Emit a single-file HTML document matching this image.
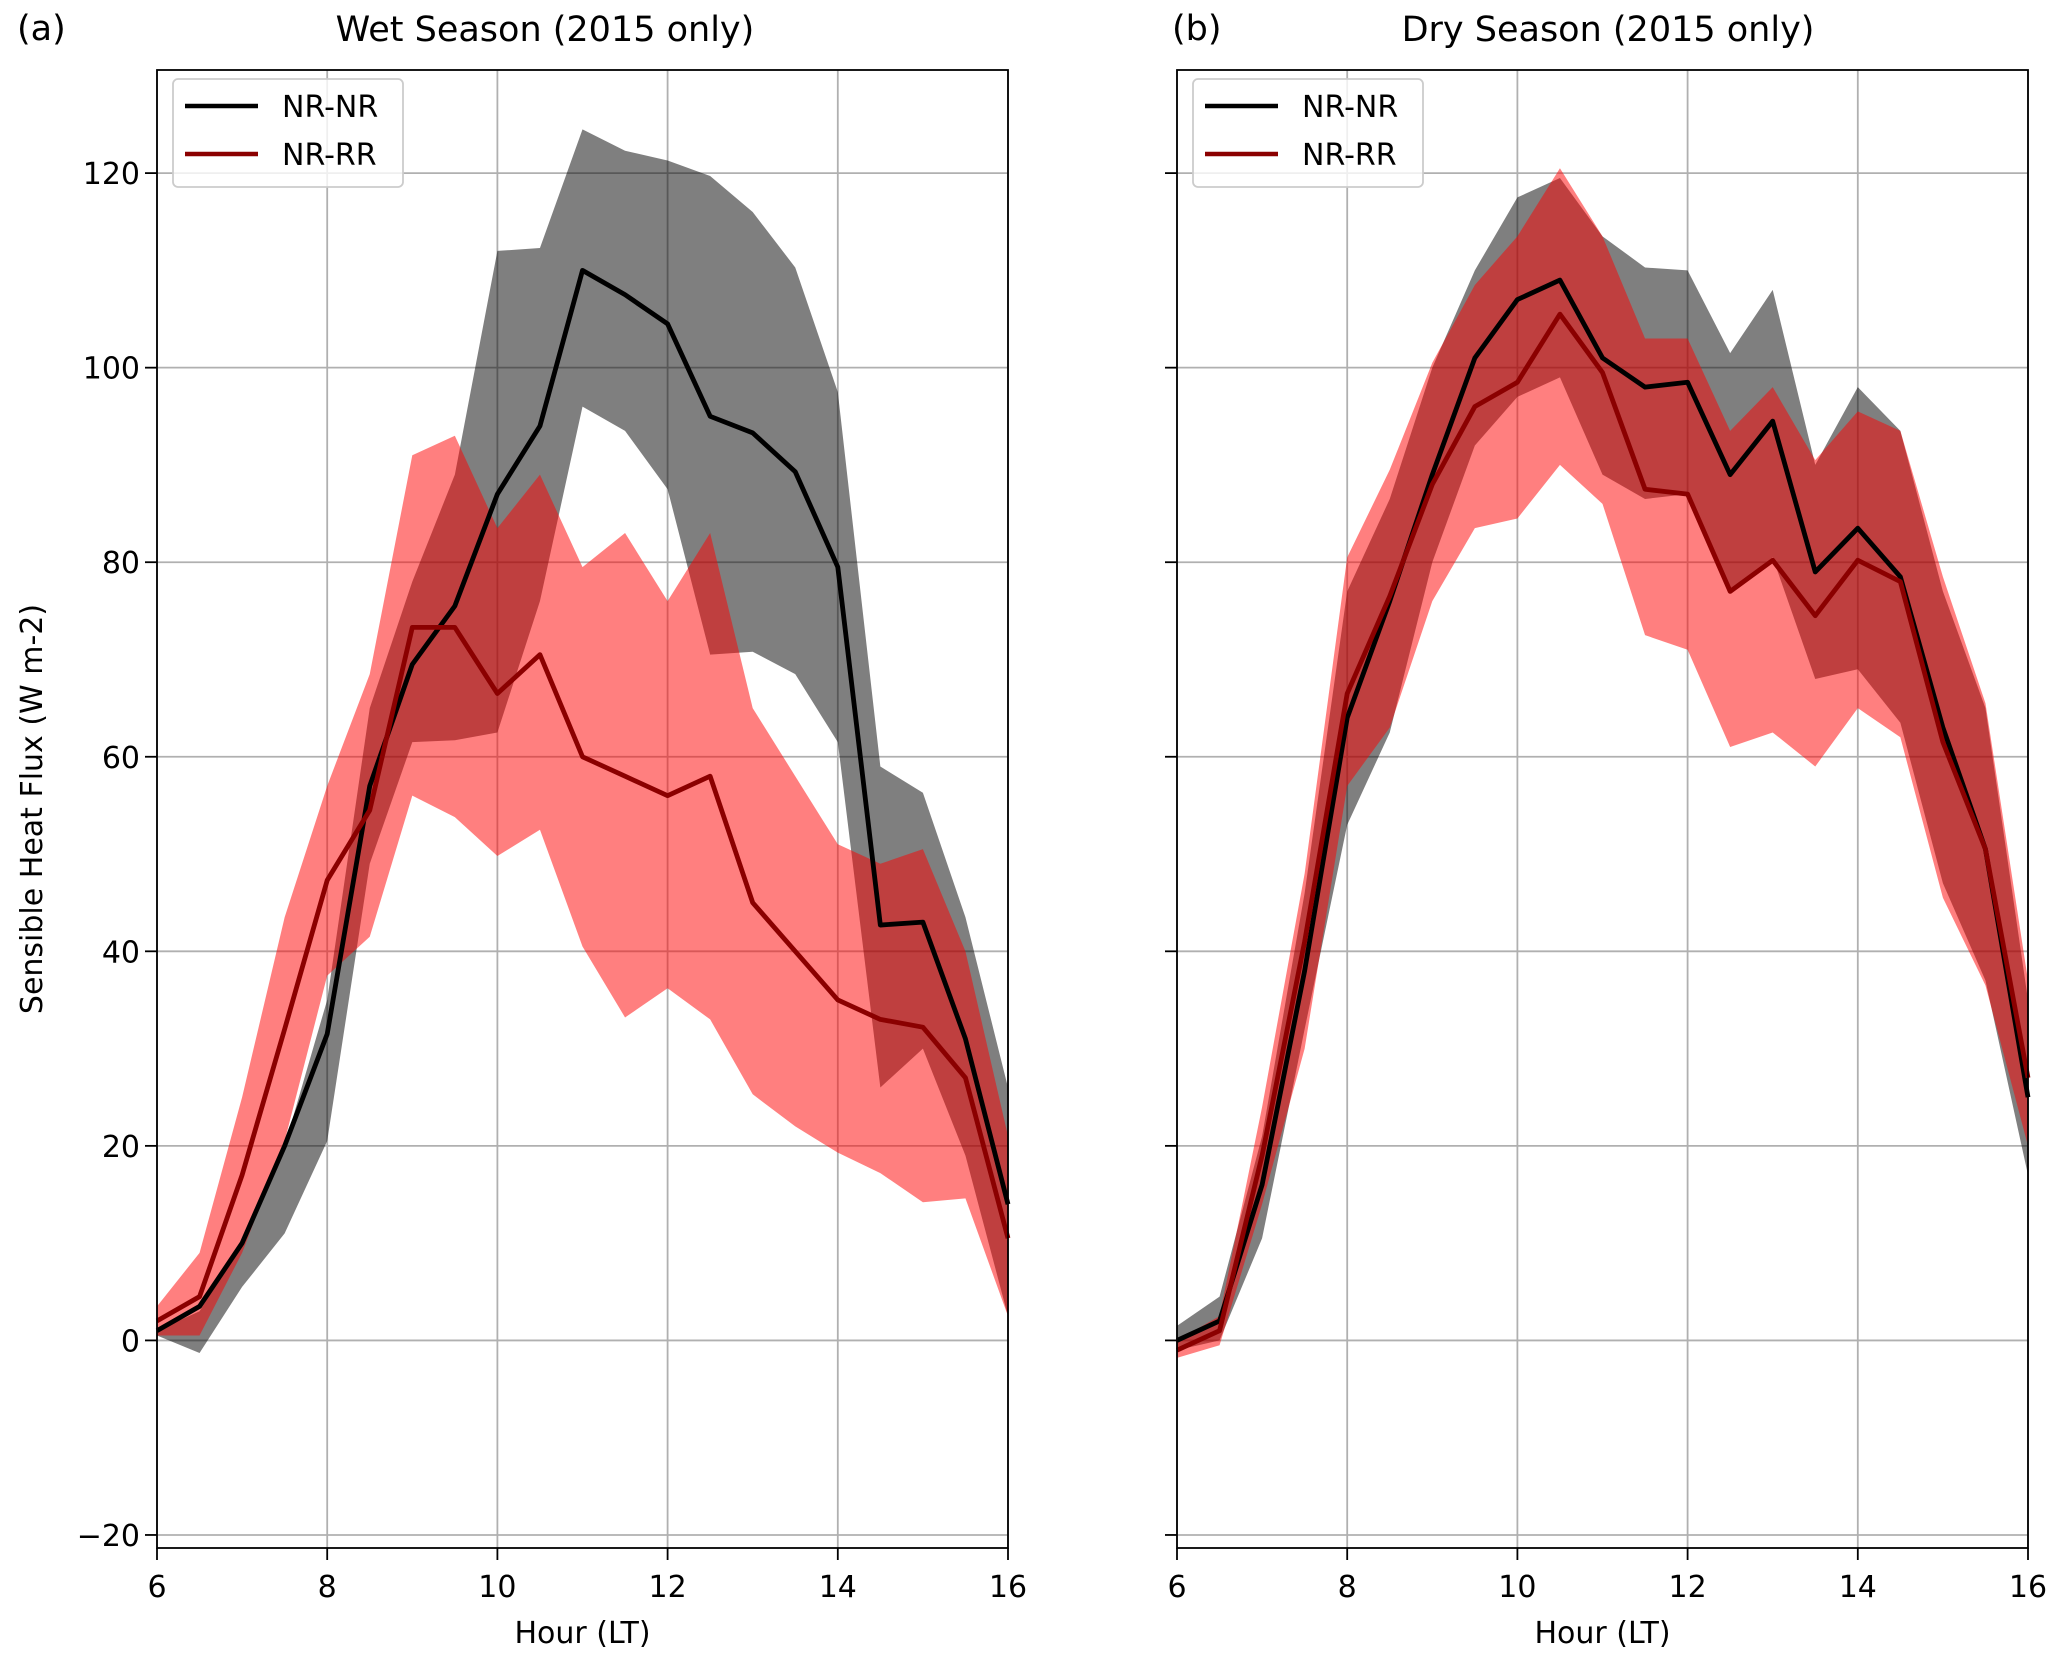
<!DOCTYPE html>
<html><head><meta charset="utf-8"><style>
html,body{margin:0;padding:0;background:#fff;}
svg{display:block;font-family:"DejaVu Sans","Liberation Sans",sans-serif;}
</style></head>
<body>
<svg id="fig" width="2067" height="1663" viewBox="0 0 2067 1663" xmlns="http://www.w3.org/2000/svg"></svg>
<script>
const hours = [6,6.5,7,7.5,8,8.5,9,9.5,10,10.5,11,11.5,12,12.5,13,13.5,14,14.5,15,15.5,16];
const xTicks = [6,8,10,12,14,16];
const yTicks = [-20,0,20,40,60,80,100,120];
const yTickLabels = ["\u221220","0","20","40","60","80","100","120"];

const wetNNMean = [1,3.5,10,20,31.5,57,69.5,75.5,87,94,110,107.5,104.5,95,93.3,89.3,79.5,42.7,43,31,14];
const wetNNHi   = [1,3,10,20,35,65,78,89,112,112.3,124.5,122.3,121.3,119.7,116,110.3,97.5,59,56.3,43.5,26];
const wetNNLo   = [0.5,-1.3,5.5,11,20.5,49,61.5,61.7,62.5,76,96,93.5,87.5,70.5,70.8,68.5,61.5,26,30,19,2.5];
const wetNRMean = [2,4.5,17,32,47.3,54.5,73.3,73.3,66.5,70.5,60,58,56,58,45,40,35,33,32.2,27,10.5];
const wetNRHi   = [3.5,9,25,43.5,57,68.5,91,93,83.5,89,79.5,83,76,83,65,58,51,49,50.5,40,21];
const wetNRLo   = [0.5,0.5,9,20.5,37.5,41.5,56,53.8,49.8,52.5,40.5,33.2,36.2,33,25.3,22,19.3,17.2,14.2,14.6,2.5];

const dryNNMean = [0,2,16,38,64,76,89,101,107,109,101,98,98.5,89,94.5,79,83.5,78.5,63,50.5,25];
const dryNNHi   = [1.5,4.5,21,46,77,86.5,100,110,117.5,119.5,113.5,110.3,110,101.5,108,90,98,93.5,77,65,35];
const dryNNLo   = [-1,0,10.5,32,53,62.5,80,92,97,99,89,86.5,87,77,80.5,68,69,63.5,47,37,17];
const dryNRMean = [-1,1,19,41,66.5,76.5,88,96,98.5,105.5,99.5,87.5,87,77,80.2,74.5,80.2,78,61.5,50.5,27];
const dryNRHi   = [0,2.5,24,48,80.5,89.5,100.5,108.5,113.5,120.5,113.5,103,103,93.5,98,90.5,95.5,93.5,78.5,65.5,37];
const dryNRLo   = [-1.8,-0.5,14,30,57,63,76,83.5,84.5,90,86,72.5,71,61,62.5,59,65,62,45.5,36.5,20];

const NS="http://www.w3.org/2000/svg";
const svg=document.getElementById('fig');
function mk(tag,attrs,parent){const e=document.createElementNS(NS,tag);for(const k in attrs)e.setAttribute(k,attrs[k]);(parent||svg).appendChild(e);return e;}

const TOP=70,BOT=1548,YMIN=-21.34,YMAX=130.6;
function yS(v){return BOT-(v-YMIN)/(YMAX-YMIN)*(BOT-TOP);}

function panel(id,x0,x1,letter,letterX,title,titleX,showY,d){
  const xS=h=>x0+(h-6)/10*(x1-x0);
  const g=mk('g',{});
  
  
  xTicks.forEach(t=>{const l=mk('line',{x1:xS(t),x2:xS(t),y1:TOP,y2:BOT,stroke:'#b0b0b0','stroke-width':1.8},g);
    });
  yTicks.forEach(t=>{const l=mk('line',{x1:x0,x2:x1,y1:yS(t),y2:yS(t),stroke:'#b0b0b0','stroke-width':1.8},g);
    });
  function band(hi,lo,color,name){
    let p=hours.map((h,i)=>xS(h)+','+yS(hi[i])).join(' ')+' '+hours.slice().reverse().map((h,j)=>{const i=hours.length-1-j;return xS(h)+','+yS(lo[i]);}).join(' ');
    const e=mk('polygon',{points:p,fill:color,'fill-opacity':0.5},g);
    
  }
  function line(m,color,name){
    const e=mk('polyline',{points:hours.map((h,i)=>xS(h)+','+yS(m[i])).join(' '),fill:'none',stroke:color,'stroke-width':4.8,'stroke-linejoin':'round'},g);
    
  }
  band(d.nnHi,d.nnLo,'#000000','nr-nr-range-band');
  band(d.nrHi,d.nrLo,'#ff0000','nr-rr-range-band');
  line(d.nnMean,'#000000','nr-nr-line');
  line(d.nrMean,'#8b0000','nr-rr-line');
  const fr=mk('rect',{x:x0,y:TOP,width:x1-x0,height:BOT-TOP,fill:'none',stroke:'#000','stroke-width':1.8},g);
  
  xTicks.forEach(t=>{mk('line',{x1:xS(t),x2:xS(t),y1:BOT,y2:BOT+12,stroke:'#000','stroke-width':1.8},g);
    const tx=mk('text',{x:xS(t),y:1597,'font-size':30,'text-anchor':'middle'},g);tx.textContent=t;
    });
  yTicks.forEach((t,i)=>{mk('line',{x1:x0-12,x2:x0,y1:yS(t),y2:yS(t),stroke:'#000','stroke-width':1.8},g);
    if(showY){const tx=mk('text',{x:x0-17,y:yS(t)+11,'font-size':30,'text-anchor':'end'},g);tx.textContent=yTickLabels[i];
    }});
  const xl=mk('text',{x:(x0+x1)/2,y:1643,'font-size':30,'text-anchor':'middle'},g);xl.textContent='Hour (LT)';
  
  const tt=mk('text',{x:titleX,y:41,'font-size':35,'text-anchor':'middle'},g);tt.textContent=title;
  
  const lt=mk('text',{x:letterX,y:40,'font-size':35},g);lt.textContent=letter;
  
  const lg=mk('g',{},g);
  
  mk('rect',{x:x0+16,y:79,width:230,height:108,rx:5,fill:'#fff','fill-opacity':0.8,stroke:'#cccccc','stroke-width':1.8},lg);
  [['NR-NR','#000000',106],['NR-RR','#8b0000',154]].forEach(([n,c,yy])=>{
    const it=mk('g',{},lg);
    
    mk('line',{x1:x0+28,x2:x0+101,y1:yy,y2:yy,stroke:c,'stroke-width':4.5},it);
    const t=mk('text',{x:x0+125,y:yy+11,'font-size':30},it);t.textContent=n;
  });
}
panel('wet',157,1008,'(a)',17,'Wet Season (2015 only)',545,true,{nnMean:wetNNMean,nnHi:wetNNHi,nnLo:wetNNLo,nrMean:wetNRMean,nrHi:wetNRHi,nrLo:wetNRLo});
panel('dry',1177,2028,'(b)',1172,'Dry Season (2015 only)',1608,false,{nnMean:dryNNMean,nnHi:dryNNHi,nnLo:dryNNLo,nrMean:dryNRMean,nrHi:dryNRHi,nrLo:dryNRLo});
const yl=mk('text',{x:0,y:0,'font-size':30,'text-anchor':'middle',transform:'translate(42,809) rotate(-90)'});
yl.textContent='Sensible Heat Flux (W m-2)';


</script>
</body></html>
